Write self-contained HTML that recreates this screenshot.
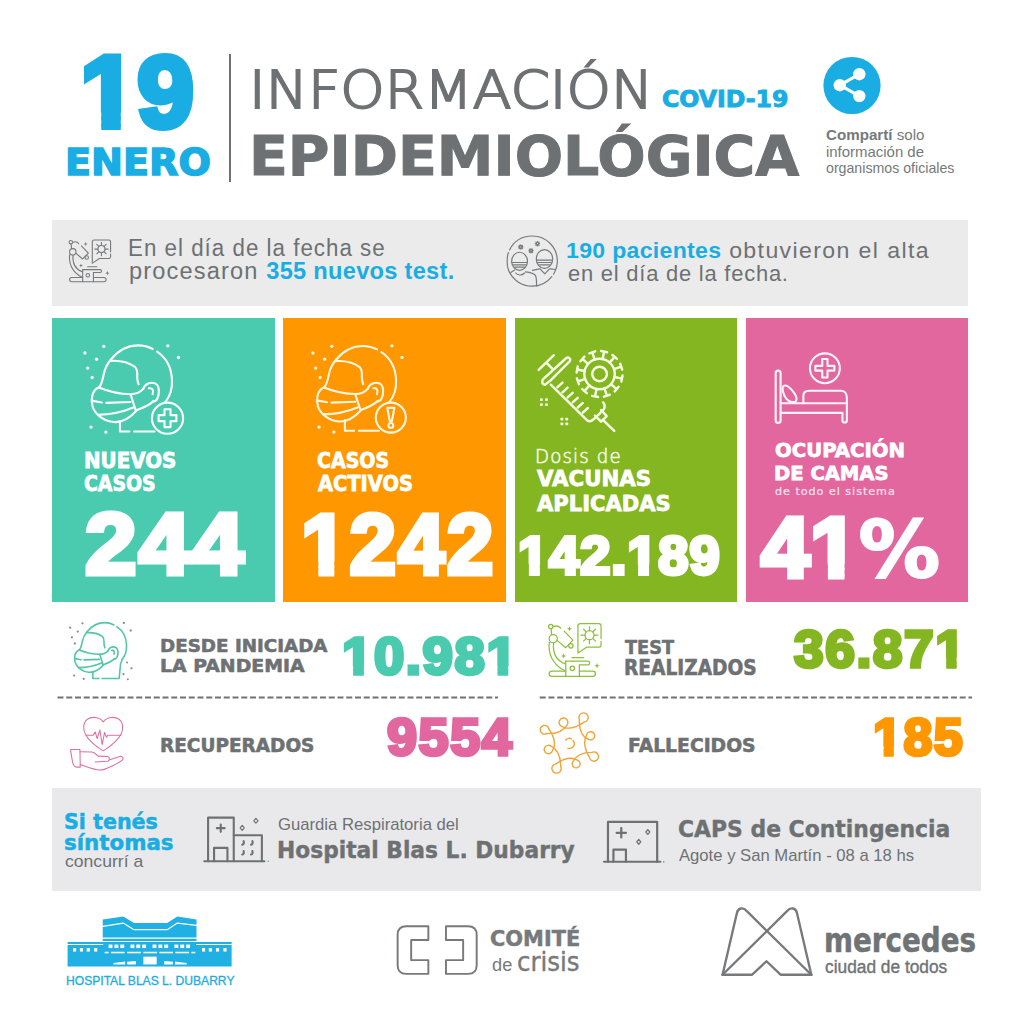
<!DOCTYPE html>
<html lang="es"><head><meta charset="utf-8"><title>Información Epidemiológica</title>
<style>
html,body{margin:0;padding:0;background:#fff;}
body{width:1024px;height:1024px;position:relative;overflow:hidden;}
.t{position:absolute;line-height:1;white-space:nowrap;transform-origin:0 0;}
.t b{font-weight:700;}
.r{position:absolute;}
svg{position:absolute;overflow:visible;}
</style></head><body>
<div class="r" style="left:229px;top:54px;width:2px;height:128px;background:#6d7173"></div>
<div class="r" style="left:52px;top:220px;width:916px;height:86px;background:#ebebeb"></div>
<div class="r" style="left:52px;top:318px;width:222.5px;height:283.5px;background:#4acbb0"></div>
<div class="r" style="left:283px;top:318px;width:223px;height:283.5px;background:#ff9700"></div>
<div class="r" style="left:514.5px;top:318px;width:222px;height:283.5px;background:#84b621"></div>
<div class="r" style="left:745.5px;top:318px;width:222.5px;height:283.5px;background:#e2679f"></div>
<div class="r" style="left:52px;top:788px;width:929px;height:103px;background:#e9e9eb"></div>
<svg style="left:76px;top:338px" width="114" height="102" viewBox="0 0 1024 916" fill="none" stroke-linecap="round" stroke-linejoin="round" ><g stroke="#fbfffd" stroke-width="19" style="color:#fbfffd"><path d="M318,188 C390,100 470,66 560,66 C610,66 650,78 688,98"/>
<path d="M728,122 C800,170 858,260 862,380 C866,460 840,530 800,578"/>
<path d="M318,188 C280,230 258,280 248,330 C238,380 232,420 205,445"/>
<path d="M305,205 C380,200 470,215 530,260 C560,290 548,330 550,360 C552,390 560,405 562,415"/>
<path d="M205,445 C140,470 130,560 150,620 C175,690 250,745 340,755 C420,760 490,710 540,655"/>
<path d="M205,445 C290,480 400,505 490,505 C540,505 580,485 605,455"/>
<path d="M490,505 L535,645"/>
<path d="M150,565 L232,580 M272,583 L490,575"/>
<path d="M195,690 C310,690 420,665 515,625"/>
<path d="M540,650 C600,630 660,600 700,565"/>
<path d="M605,455 C620,410 670,390 715,410 C750,430 752,500 730,545 C720,565 700,575 690,570"/>
<path d="M655,452 C688,445 700,470 688,505"/>
<path d="M395,745 L395,840 L480,840 M522,840 L705,840"/><g stroke="none" fill="currentColor"><circle cx="80" cy="135" r="15"/><circle cx="250" cy="75" r="15"/><circle cx="185" cy="190" r="15"/><circle cx="105" cy="270" r="15"/><circle cx="145" cy="355" r="15"/><circle cx="825" cy="70" r="15"/><circle cx="920" cy="175" r="15"/><circle cx="135" cy="800" r="15"/><circle cx="268" cy="845" r="15"/></g><circle cx="822" cy="720" r="140"/><path d="M795,640 L849,640 L849,693 L902,693 L902,747 L849,747 L849,800 L795,800 L795,747 L742,747 L742,693 L795,693 Z"/></g></svg>
<svg style="left:304px;top:338px" width="114" height="102" viewBox="0 0 1024 916" fill="none" stroke-linecap="round" stroke-linejoin="round" ><g stroke="#fff6e2" stroke-width="19" style="color:#fff6e2"><g transform="translate(-22,6) scale(0.985)"><path d="M318,188 C390,100 470,66 560,66 C610,66 650,78 688,98"/>
<path d="M728,122 C800,170 858,260 862,380 C866,460 840,530 800,578"/>
<path d="M318,188 C280,230 258,280 248,330 C238,380 232,420 205,445"/>
<path d="M305,205 C380,200 470,215 530,260 C560,290 548,330 550,360 C552,390 560,405 562,415"/>
<path d="M205,445 C140,470 130,560 150,620 C175,690 250,745 340,755 C420,760 490,710 540,655"/>
<path d="M205,445 C290,480 400,505 490,505 C540,505 580,485 605,455"/>
<path d="M490,505 L535,645"/>
<path d="M150,565 L232,580 M272,583 L490,575"/>
<path d="M195,690 C310,690 420,665 515,625"/>
<path d="M540,650 C600,630 660,600 700,565"/>
<path d="M605,455 C620,410 670,390 715,410 C750,430 752,500 730,545 C720,565 700,575 690,570"/>
<path d="M655,452 C688,445 700,470 688,505"/>
<path d="M395,745 L395,840 L480,840 M522,840 L705,840"/></g><g stroke="none" fill="currentColor"><circle cx="80" cy="135" r="15"/><circle cx="250" cy="75" r="15"/><circle cx="185" cy="190" r="15"/><circle cx="105" cy="270" r="15"/><circle cx="145" cy="355" r="15"/><circle cx="790" cy="70" r="15"/><circle cx="880" cy="175" r="15"/><circle cx="135" cy="800" r="15"/><circle cx="268" cy="845" r="15"/></g><circle cx="780" cy="715" r="135"/><path d="M748,628 L812,628 L790,745 L770,745 Z"/><circle cx="780" cy="785" r="22"/></g></svg>
<svg style="left:530px;top:340px" width="104" height="100" viewBox="0 0 1024 985" fill="none" stroke-linecap="round" stroke-linejoin="round" ><g stroke="#f6ffe4" stroke-width="24"><path d="M85,295 L235,150"/><path d="M160,222 L222,284"/>
<path d="M150,440 C120,440 110,405 130,385 L355,180 C380,160 410,190 390,210 L205,395 Z" />
<path d="M205,440 L560,790 C590,815 620,790 640,770 L720,690 C745,665 735,630 720,615"/>
<path d="M270,465 L320,420 M320,515 L370,470 M370,565 L420,520 M420,615 L470,570 M470,665 L520,620 M520,715 L570,670"/>
<path d="M640,745 L700,805 L755,750 L700,690 M720,790 L830,895"/>
<circle cx="685" cy="335" r="150"/><circle cx="685" cy="335" r="72"/>
<path d="M832,365 L906,380 M911,350 L900,409 M797,434 L854,484 M873,461 L834,506 M733,477 L757,548 M785,539 L728,558 M655,482 L640,556 M670,561 L611,550 M586,447 L536,504 M559,523 L514,484 M543,383 L472,407 M481,435 L462,378 M538,305 L464,290 M459,320 L470,261 M573,236 L516,186 M497,209 L536,164 M637,193 L613,122 M585,131 L642,112 M715,188 L730,114 M700,109 L759,120 M784,223 L834,166 M811,147 L856,186 M827,287 L898,263 M889,235 L908,292"/>
<g stroke="none" fill="#f6ffe4"><rect x="98" y="573" width="28" height="28" rx="8"/><rect x="148" y="573" width="28" height="28" rx="8"/><rect x="98" y="623" width="28" height="28" rx="8"/><rect x="148" y="623" width="28" height="28" rx="8"/>
<rect x="300" y="765" width="28" height="28" rx="8"/><rect x="348" y="765" width="28" height="28" rx="8"/><rect x="300" y="812" width="28" height="28" rx="8"/><rect x="348" y="812" width="28" height="28" rx="8"/></g></g></svg>
<svg style="left:766px;top:345px" width="90" height="85" viewBox="0 0 1024 967" fill="none" stroke-linecap="round" stroke-linejoin="round" ><g stroke="#fff4f8" stroke-width="24"><rect x="110" y="292" width="56" height="594" rx="28"/>
<path d="M166,662 L920,662 L920,858 C920,890 870,890 870,858 L870,772 L166,772"/>
<path d="M425,662 L425,580 C425,540 450,520 490,520 L850,520 C890,520 920,550 920,600 L920,662"/>
<path d="M200,465 C230,450 260,470 300,520 C340,570 360,600 340,640 C320,660 260,650 230,610 C195,560 175,490 200,465 Z"/>
<circle cx="670" cy="265" r="170"/>
<path d="M640,160 L700,160 L700,238 L778,238 L778,292 L700,292 L700,370 L640,370 L640,292 L562,292 L562,238 L640,238 Z"/></g></svg>
<svg style="left:542px;top:618px" width="64" height="64" viewBox="0 0 1024 1024" fill="none" stroke-linecap="round" stroke-linejoin="round" ><g stroke="#8dbf3a" stroke-width="20" style="color:#8dbf3a"><circle cx="140" cy="135" r="35"/><path d="M185,135 C240,120 280,130 300,165"/>
<path d="M145,170 L155,262"/><circle cx="180" cy="330" r="65"/>
<path d="M355,210 L495,355 L380,475 L245,362"/><circle cx="462" cy="445" r="35"/>
<path d="M118,385 C90,560 170,745 360,840"/><path d="M185,400 C170,560 230,680 372,735"/>
<path d="M480,632 L665,632"/><path d="M380,690 L735,690 C772,690 772,750 735,750 L598,750"/>
<path d="M380,690 L380,935 M598,750 L598,935"/><circle cx="485" cy="805" r="35"/>
<path d="M380,850 L160,850 C100,850 100,935 160,935 L810,935 C870,935 870,850 810,850 L598,850"/>
<path d="M575,560 L575,125 C575,100 590,90 615,90 L910,90 C935,90 945,105 945,125 L945,330 M945,375 L945,430 C945,455 930,465 905,465 L720,465 L575,560"/>
<circle cx="760" cy="275" r="72"/>
<path d="M760,203 L760,140 M760,347 L760,410 M688,275 L625,275 M832,275 L895,275 M709,224 L665,180 M811,326 L855,370 M709,326 L665,370 M811,224 L855,180"/><g stroke="none" fill="currentColor"><path d="M440,130 L452,160 L482,172 L452,184 L440,214 L428,184 L398,172 L428,160Z"/><path d="M345,565 L357,595 L387,607 L357,619 L345,649 L333,619 L303,607 L333,595Z"/><path d="M880,720 L892,750 L922,762 L892,774 L880,804 L868,774 L838,762 L868,750Z"/></g></g></svg>
<svg style="left:0;top:0" width="1024" height="1024" viewBox="0 0 1024 1024" fill="none" stroke-linecap="round" stroke-linejoin="round"><g transform="translate(63.9,235.5) scale(0.0494)" stroke="#77797b" stroke-width="22" style="color:#77797b"><circle cx="140" cy="135" r="35"/><path d="M185,135 C240,120 280,130 300,165"/>
<path d="M145,170 L155,262"/><circle cx="180" cy="330" r="65"/>
<path d="M355,210 L495,355 L380,475 L245,362"/><circle cx="462" cy="445" r="35"/>
<path d="M118,385 C90,560 170,745 360,840"/><path d="M185,400 C170,560 230,680 372,735"/>
<path d="M480,632 L665,632"/><path d="M380,690 L735,690 C772,690 772,750 735,750 L598,750"/>
<path d="M380,690 L380,935 M598,750 L598,935"/><circle cx="485" cy="805" r="35"/>
<path d="M380,850 L160,850 C100,850 100,935 160,935 L810,935 C870,935 870,850 810,850 L598,850"/>
<path d="M575,560 L575,125 C575,100 590,90 615,90 L910,90 C935,90 945,105 945,125 L945,330 M945,375 L945,430 C945,455 930,465 905,465 L720,465 L575,560"/>
<circle cx="760" cy="275" r="72"/>
<path d="M760,203 L760,140 M760,347 L760,410 M688,275 L625,275 M832,275 L895,275 M709,224 L665,180 M811,326 L855,370 M709,326 L665,370 M811,224 L855,180"/><g stroke="none" fill="currentColor"><path d="M440,130 L452,160 L482,172 L452,184 L440,214 L428,184 L398,172 L428,160Z"/><path d="M345,565 L357,595 L387,607 L357,619 L345,649 L333,619 L303,607 L333,595Z"/><path d="M880,720 L892,750 L922,762 L892,774 L880,804 L868,774 L838,762 L868,750Z"/></g></g></svg>
<svg style="left:502px;top:232px" width="60" height="60" viewBox="0 0 1024 1024" fill="none" stroke-linecap="round" stroke-linejoin="round" ><g stroke="#77797b" stroke-width="20"><path d="M130,305 C200,160 340,70 515,68 C750,66 945,260 945,495 C945,590 915,660 880,720 M850,760 C770,860 650,925 515,925 C330,925 175,810 110,650 C80,570 80,430 110,350"/>
<ellipse cx="300" cy="500" rx="135" ry="155"/><path d="M168,520 L432,520 M190,560 L410,560 M215,600 L385,600"/>
<path d="M215,650 L150,690 M235,700 C260,740 340,750 385,700 M400,680 C480,690 540,700 570,740 C590,770 590,850 590,920"/>
<ellipse cx="725" cy="460" rx="140" ry="160"/><path d="M590,480 L860,480 M610,520 L840,520 M640,560 L810,560"/>
<path d="M650,630 L730,715 L810,630 M520,655 L640,630 M825,630 L910,640"/>
<circle cx="320" cy="255" r="22"/><path d="M342,255 L358,255 M336,271 L347,282 M320,277 L320,293 M304,271 L293,282 M298,255 L282,255 M304,239 L293,228 M320,233 L320,217 M336,239 L347,228"/><circle cx="495" cy="320" r="22"/><path d="M517,320 L533,320 M511,336 L522,347 M495,342 L495,358 M479,336 L468,347 M473,320 L457,320 M479,304 L468,293 M495,298 L495,282 M511,304 L522,293"/><circle cx="605" cy="200" r="22"/><path d="M627,200 L643,200 M621,216 L632,227 M605,222 L605,238 M589,216 L578,227 M583,200 L567,200 M589,184 L578,173 M605,178 L605,162 M621,184 L632,173"/></g></svg>
<svg style="left:0;top:0" width="1024" height="1024" viewBox="0 0 1024 1024" fill="none" stroke-linecap="round" stroke-linejoin="round"><g transform="translate(64.4,617.9) scale(0.07206)" stroke="#54c6a8" stroke-width="22"><g><path d="M318,188 C390,100 470,66 560,66 C610,66 650,78 688,98"/>
<path d="M728,122 C800,170 858,260 862,380 C866,460 840,530 800,578"/>
<path d="M318,188 C280,230 258,280 248,330 C238,380 232,420 205,445"/>
<path d="M305,205 C380,200 470,215 530,260 C560,290 548,330 550,360 C552,390 560,405 562,415"/>
<path d="M205,445 C140,470 130,560 150,620 C175,690 250,745 340,755 C420,760 490,710 540,655"/>
<path d="M205,445 C290,480 400,505 490,505 C540,505 580,485 605,455"/>
<path d="M490,505 L535,645"/>
<path d="M150,565 L232,580 M272,583 L490,575"/>
<path d="M195,690 C310,690 420,665 515,625"/>
<path d="M540,650 C600,630 660,600 700,565"/>
<path d="M605,455 C620,410 670,390 715,410 C750,430 752,500 730,545 C720,565 700,575 690,570"/>
<path d="M655,452 C688,445 700,470 688,505"/>
<path d="M395,745 L395,840 L480,840 M522,840 L705,840"/></g><path d="M800,578 C795,600 790,615 780,630 L760,840 L705,840"/></g><g transform="translate(64.4,617.9) scale(0.07206)" fill="#8a8d8f"><circle cx="80" cy="135" r="16"/><circle cx="250" cy="75" r="16"/><circle cx="185" cy="190" r="16"/><circle cx="105" cy="270" r="16"/><circle cx="145" cy="355" r="16"/><circle cx="825" cy="70" r="16"/><circle cx="920" cy="175" r="16"/><circle cx="135" cy="800" r="16"/><circle cx="268" cy="845" r="16"/><circle cx="870" cy="620" r="14"/><circle cx="930" cy="700" r="16"/><circle cx="820" cy="780" r="16"/><circle cx="880" cy="850" r="14"/></g></svg>
<svg style="left:64px;top:710px" width="68" height="66" viewBox="0 0 1024 994" fill="none" stroke-linecap="round" stroke-linejoin="round" ><g stroke="#dd6f9b" stroke-width="16"><path d="M590,180 C530,100 420,95 350,140 C290,180 280,270 320,360 C380,470 500,560 590,615 C680,560 800,470 860,360 C900,270 890,180 830,140 C760,95 650,100 590,180 Z"/>
<path d="M330,380 L440,380 L470,330 L500,430 L540,300 L575,520 L610,340 L640,410 L660,380 L860,380"/>
<path d="M100,595 L240,595 L245,860 L190,860 C150,860 140,830 130,790 L100,620 Z"/>
<path d="M245,628 L420,632 C470,640 495,690 520,695 L660,700 C690,705 692,765 660,772 L470,782"/>
<path d="M245,820 C350,860 450,905 545,905 C620,905 840,790 880,752 C905,725 875,690 840,700 L690,750"/></g></svg>
<svg style="left:534px;top:708px" width="72" height="70" viewBox="0 0 1024 996" fill="none" stroke-linecap="round" stroke-linejoin="round" ><g stroke="#f0a43a" stroke-width="20"><path d="M178,365 A62,62 0 1 1 212,302 M401,264 A62,62 0 1 1 469,243 M646,165 A66,66 0 1 1 713,201 M749,380 A58,58 0 1 1 771,442 M823,631 A66,66 0 1 1 786,697 M617,742 A56,56 0 1 1 556,760 M379,830 A66,66 0 1 1 312,795 M262,609 A60,60 0 1 1 242,543 M178,365 Q402,369 469,243 M401,264 Q527,331 713,201 M646,165 Q639,389 771,442 M749,380 Q679,514 786,697 M823,631 Q617,632 556,760 M617,742 Q494,669 312,795 M379,830 Q378,608 242,543 M262,609 Q341,483 212,302"/><path d="M450,455 C470,430 510,425 530,440 M555,460 C600,520 560,585 480,575"/></g></svg>
<svg style="left:200px;top:812px" width="72" height="54" viewBox="0 0 1024 768" fill="none" stroke-linecap="round" stroke-linejoin="round" ><g stroke="#6d7173" stroke-width="30"><path d="M115,700 L115,80 L480,80 L480,700"/><path d="M480,330 L880,330 L880,700"/><path d="M60,700 L915,700"/>
<path d="M200,700 L200,510 L390,510 L390,700"/><path d="M240,230 L350,230 M295,178 L295,282"/>
<path d="M620,415 C630,440 620,460 600,465 M745,415 C755,440 745,460 725,465 M620,555 C630,580 620,600 600,605 M745,555 C755,580 745,600 725,605"/>
<path d="M600,190 L630,225 L600,260 L570,225 Z M795,90 L825,125 L795,160 L765,125 Z" stroke-width="16"/></g><circle cx="970" cy="700" r="10" fill="#8a8d8f"/></svg>
<svg style="left:540px;top:800px" width="160" height="80" viewBox="0 0 1024 512" fill="none" stroke-linecap="round" stroke-linejoin="round" ><g stroke="#6d7173" stroke-width="14"><path d="M435,395 L435,140 L750,140 L750,395"/><path d="M410,395 L770,395"/><path d="M470,395 L470,318 L550,318 L550,395"/>
<path d="M490,210 L550,210 M520,180 L520,240"/><path d="M690,190 L703,205 L690,220 L677,205 Z M632,253 L645,268 L632,283 L619,268 Z" stroke-width="8"/></g><circle cx="792" cy="396" r="5" fill="#8a8d8f"/></svg>
<svg style="left:822px;top:56px" width="60" height="60" viewBox="0 0 60 60"><circle cx="30" cy="29.5" r="28.6" fill="#1aade4"/><g stroke="#fff" stroke-width="3.2"><line x1="18" y1="29.2" x2="37.3" y2="18.2"/><line x1="18" y1="29.2" x2="37.3" y2="40.1"/></g><g fill="#fff"><circle cx="37.3" cy="18.2" r="6.2"/><circle cx="17.8" cy="29.2" r="6.2"/><circle cx="37.3" cy="40.1" r="6.2"/></g></svg>
<svg style="left:50px;top:900px" width="200" height="100" viewBox="0 0 1024 512" fill="none" stroke-linecap="round" stroke-linejoin="round" ><path d="M270,210 L270,100 L375,84 L430,118 L600,118 L652,84 L750,100 L750,210 Z" fill="#21b0e3"/>
<path d="M90,215 L930,215 L930,340 L90,340 Z" fill="#21b0e3"/>
<path d="M270,135 L375,118 L430,152 L600,152 L652,118 L750,130" stroke="#fff" stroke-width="6" fill="none"/>
<path d="M270,195 L750,195 M90,228 L270,228 M750,228 L930,228" stroke="#fff" stroke-width="6"/>
<g fill="#fff"><rect x="118" y="246" width="16" height="18"/><rect x="153" y="246" width="16" height="18"/><rect x="188" y="246" width="16" height="18"/><rect x="226" y="246" width="16" height="18"/>
<rect x="300" y="228" width="20" height="18"/><rect x="330" y="228" width="20" height="18"/><rect x="360" y="228" width="20" height="18"/>
<rect x="412" y="228" width="20" height="18"/><rect x="442" y="228" width="20" height="18"/><rect x="472" y="228" width="20" height="18"/>
<rect x="525" y="228" width="20" height="18"/><rect x="555" y="228" width="20" height="18"/><rect x="585" y="228" width="20" height="18"/>
<rect x="637" y="228" width="20" height="18"/><rect x="667" y="228" width="20" height="18"/><rect x="697" y="228" width="20" height="18"/>
<rect x="778" y="246" width="16" height="18"/><rect x="813" y="246" width="16" height="18"/><rect x="850" y="246" width="16" height="18"/><rect x="888" y="246" width="16" height="18"/>
<rect x="280" y="265" width="20" height="8"/><rect x="312" y="265" width="70" height="8"/><rect x="395" y="265" width="70" height="8"/><rect x="478" y="265" width="70" height="8"/><rect x="560" y="265" width="70" height="8"/><rect x="642" y="265" width="70" height="8"/><rect x="724" y="265" width="20" height="8"/>
<rect x="478" y="290" width="68" height="40"/><path d="M325,330 L325,322 L385,315 L385,330 Z M395,330 L395,316 L440,312 L440,330 Z M585,330 L585,312 L630,316 L630,330 Z M640,330 L640,315 L700,322 L700,330 Z"/></g></svg>
<svg style="left:380px;top:900px" width="220" height="90" viewBox="0 0 1024 419" fill="none" stroke-linecap="round" stroke-linejoin="round" ><g stroke="#77797b" stroke-width="9"><path d="M225,122 L122,122 Q82,122 82,162 L82,304 Q82,344 122,344 L225,344 L225,280 L145,280 L145,186 L225,186 Z"/>
<path d="M307,122 L410,122 Q450,122 450,162 L450,304 Q450,344 410,344 L307,344 L307,280 L387,280 L387,186 L307,186 Z"/></g></svg>
<svg style="left:700px;top:890px" width="300" height="100" viewBox="0 0 1024 341" fill="none" stroke-linecap="round" stroke-linejoin="round" ><g stroke="#77797b" stroke-width="8"><path d="M380,289 L160,72 C148,58 130,60 126,78 L77,289"/>
<path d="M77,289 L297,72 C309,58 327,60 331,78 L380,289"/>
<path d="M77,289 L178,289 L227,243 L275,289 L380,289"/></g></svg>
<svg style="left:0;top:0" width="1024" height="1024"><g stroke="#707375" stroke-width="2" stroke-dasharray="6 2.75"><line x1="57.5" y1="697.4" x2="498" y2="697.4"/><line x1="539.7" y1="697.4" x2="972" y2="697.4"/></g></svg>
<div class="t" style="left:79.66px;top:41.65px;font-family:'Liberation Sans',sans-serif;font-weight:700;font-size:101.59px;color:#1aade4;transform:scaleX(1.0093);-webkit-text-stroke-width:6px;"><span style="display:inline-block;clip-path:polygon(-50px -50px,300px -50px,300px 71.09px,40.39px 71.09px,40.39px 300px,21.07px 300px,21.07px 71.09px,-50px 71.09px)">1</span>9</div>
<div class="t" style="left:65.36px;top:143.62px;font-family:'DejaVu Sans',sans-serif;font-weight:700;font-size:37.67px;color:#1aade4;transform:scaleX(1.0136);-webkit-text-stroke-width:1.5px;">ENERO</div>
<div class="t" style="left:248.76px;top:64.73px;font-family:'DejaVu Sans',sans-serif;font-weight:200;font-size:51.92px;color:#6d7173;transform:scaleX(1.0878);-webkit-text-stroke-width:2px;">INFORMACIÓN</div>
<div class="t" style="left:661.80px;top:87.87px;font-family:'DejaVu Sans',sans-serif;font-weight:700;font-size:23.70px;color:#1aade4;transform:scaleX(0.9960);-webkit-text-stroke-width:1px;">COVID-19</div>
<div class="t" style="left:248.82px;top:128.83px;font-family:'DejaVu Sans',sans-serif;font-weight:700;font-size:54.52px;color:#6d7173;transform:scaleX(1.0439);-webkit-text-stroke-width:1px;">EPIDEMIOLÓGICA</div>
<div class="t" style="left:825.83px;top:128.30px;font-family:'Liberation Sans',sans-serif;font-weight:400;font-size:14.20px;color:#76797b;transform:scaleX(1.0670);"><b>Compartí</b> solo</div>
<div class="t" style="left:825.85px;top:144.70px;font-family:'Liberation Sans',sans-serif;font-weight:400;font-size:14.20px;color:#76797b;transform:scaleX(1.0527);">información de</div>
<div class="t" style="left:825.90px;top:160.60px;font-family:'Liberation Sans',sans-serif;font-weight:400;font-size:14.20px;color:#76797b;transform:scaleX(0.9988);">organismos oficiales</div>
<div class="t" style="left:127.96px;top:237.03px;font-family:'Liberation Sans',sans-serif;font-weight:400;font-size:23.04px;color:#6d7173;transform:scaleX(0.9698);letter-spacing:1.041685342895562px;">En el día de la fecha se</div>
<div class="t" style="left:128.58px;top:259.93px;font-family:'Liberation Sans',sans-serif;font-weight:400;font-size:23.04px;color:#6d7173;transform:scaleX(1.0235);letter-spacing:1.1296590007930218px;">procesaron <b style="color:#1aade4;letter-spacing:0.3px">355 nuevos test.</b></div>
<div class="t" style="left:566.16px;top:239.80px;font-family:'Liberation Sans',sans-serif;font-weight:400;font-size:22.61px;color:#6d7173;transform:scaleX(1.0204);letter-spacing:1.3658131027602243px;"><b style="color:#1aade4;letter-spacing:0.3px">190 pacientes</b> obtuvieron el alta</div>
<div class="t" style="left:567.63px;top:262.70px;font-family:'Liberation Sans',sans-serif;font-weight:400;font-size:22.61px;color:#6d7173;transform:scaleX(0.9696);letter-spacing:0.8055964653902772px;">en el día de la fecha.</div>
<div class="t" style="left:83.63px;top:450.95px;font-family:'DejaVu Sans',sans-serif;font-weight:700;font-size:20.41px;color:#ffffff;transform:scaleX(0.9720);-webkit-text-stroke-width:0.8px;">NUEVOS</div>
<div class="t" style="left:83.67px;top:474.35px;font-family:'DejaVu Sans',sans-serif;font-weight:700;font-size:20.41px;color:#ffffff;transform:scaleX(0.9250);-webkit-text-stroke-width:0.8px;">CASOS</div>
<div class="t" style="left:84.50px;top:501.29px;font-family:'Liberation Sans',sans-serif;font-weight:700;font-size:86.52px;color:#ffffff;transform:scaleX(1.0709);-webkit-text-stroke-width:5px;letter-spacing:2px;">244</div>
<div class="t" style="left:317.27px;top:450.95px;font-family:'DejaVu Sans',sans-serif;font-weight:700;font-size:20.41px;color:#ffffff;transform:scaleX(0.9316);-webkit-text-stroke-width:0.8px;">CASOS</div>
<div class="t" style="left:318.20px;top:474.35px;font-family:'DejaVu Sans',sans-serif;font-weight:700;font-size:20.41px;color:#ffffff;transform:scaleX(0.9515);-webkit-text-stroke-width:0.8px;">ACTIVOS</div>
<div class="t" style="left:300.65px;top:502.29px;font-family:'Liberation Sans',sans-serif;font-weight:700;font-size:85.22px;color:#ffffff;transform:scaleX(0.9828);-webkit-text-stroke-width:5px;letter-spacing:2px;"><span style="display:inline-block;clip-path:polygon(-50px -50px,300px -50px,300px 59.39px,33.83px 59.39px,33.83px 300px,17.73px 300px,17.73px 59.39px,-50px 59.39px)">1</span>242</div>
<div class="t" style="left:535.40px;top:447.19px;font-family:'DejaVu Sans',sans-serif;font-weight:200;font-size:19.18px;color:#f4fbe6;transform:scaleX(0.9517);-webkit-text-stroke-width:0.6px;letter-spacing:1.1654135338345972px;">Dosis de</div>
<div class="t" style="left:537.30px;top:469.49px;font-family:'DejaVu Sans',sans-serif;font-weight:700;font-size:20.96px;color:#ffffff;transform:scaleX(1.0162);-webkit-text-stroke-width:0.8px;">VACUNAS</div>
<div class="t" style="left:537.30px;top:493.69px;font-family:'DejaVu Sans',sans-serif;font-weight:700;font-size:20.96px;color:#ffffff;transform:scaleX(1.0045);-webkit-text-stroke-width:0.8px;">APLICADAS</div>
<div class="t" style="left:518.00px;top:527.72px;font-family:'Liberation Sans',sans-serif;font-weight:700;font-size:54.06px;color:#ffffff;transform:scaleX(1.0005);-webkit-text-stroke-width:4px;letter-spacing:1px;"><span style="display:inline-block;clip-path:polygon(-50px -50px,300px -50px,300px 36.67px,21.80px 36.67px,21.80px 300px,10.90px 300px,10.90px 36.67px,-50px 36.67px)">1</span>42.<span style="display:inline-block;clip-path:polygon(-50px -50px,300px -50px,300px 36.67px,21.80px 36.67px,21.80px 300px,10.90px 300px,10.90px 36.67px,-50px 36.67px)">1</span>89</div>
<div class="t" style="left:775.30px;top:439.80px;font-family:'DejaVu Sans',sans-serif;font-weight:700;font-size:20.00px;color:#ffffff;transform:scaleX(0.9840);-webkit-text-stroke-width:0.8px;">OCUPACIÓN</div>
<div class="t" style="left:774.27px;top:464.13px;font-family:'DejaVu Sans',sans-serif;font-weight:700;font-size:18.90px;color:#ffffff;transform:scaleX(1.0349);-webkit-text-stroke-width:0.8px;">DE CAMAS</div>
<div class="t" style="left:775.20px;top:486.42px;font-family:'DejaVu Sans',sans-serif;font-weight:400;font-size:11.10px;color:#fbe2ed;transform:scaleX(1.0042);-webkit-text-stroke-width:0.2px;letter-spacing:0.9705882352941176px;">de todo el sistema</div>
<div class="t" style="left:761.13px;top:505.58px;font-family:'Liberation Sans',sans-serif;font-weight:700;font-size:84.64px;color:#ffffff;transform:scaleX(1.0347);-webkit-text-stroke-width:5px;">4<span style="display:inline-block;clip-path:polygon(-50px -50px,300px -50px,300px 58.96px,33.62px 58.96px,33.62px 300px,17.59px 300px,17.59px 58.96px,-50px 58.96px)">1</span><span style="font-family:DejaVu Sans,sans-serif;font-size:0.93em;-webkit-text-stroke-width:2px">%</span></div>
<div class="t" style="left:159.81px;top:636.57px;font-family:'DejaVu Sans',sans-serif;font-weight:700;font-size:18.49px;color:#6d7173;transform:scaleX(0.9893);-webkit-text-stroke-width:0.6px;">DESDE INICIADA</div>
<div class="t" style="left:159.77px;top:656.59px;font-family:'DejaVu Sans',sans-serif;font-weight:700;font-size:18.36px;color:#6d7173;transform:scaleX(1.0271);-webkit-text-stroke-width:0.6px;">LA PANDEMIA</div>
<div class="t" style="left:342.27px;top:631.42px;font-family:'Liberation Sans',sans-serif;font-weight:700;font-size:51.16px;color:#4acbb0;transform:scaleX(1.0656);-webkit-text-stroke-width:3.5px;letter-spacing:1.5px;"><span style="display:inline-block;clip-path:polygon(-50px -50px,300px -50px,300px 34.76px,20.48px 34.76px,20.48px 300px,10.47px 300px,10.47px 34.76px,-50px 34.76px)">1</span>0.98<span style="display:inline-block;clip-path:polygon(-50px -50px,300px -50px,300px 34.76px,20.48px 34.76px,20.48px 300px,10.47px 300px,10.47px 34.76px,-50px 34.76px)">1</span></div>
<div class="t" style="left:624.90px;top:637.66px;font-family:'DejaVu Sans',sans-serif;font-weight:700;font-size:19.45px;color:#6d7173;transform:scaleX(0.9111);-webkit-text-stroke-width:0.6px;">TEST</div>
<div class="t" style="left:623.99px;top:657.95px;font-family:'DejaVu Sans',sans-serif;font-weight:700;font-size:20.41px;color:#6d7173;transform:scaleX(0.9118);-webkit-text-stroke-width:0.6px;">REALIZADOS</div>
<div class="t" style="left:794.32px;top:622.62px;font-family:'Liberation Sans',sans-serif;font-weight:700;font-size:52.46px;color:#84b621;transform:scaleX(1.0180);-webkit-text-stroke-width:3.5px;letter-spacing:1.5px;">36.87<span style="display:inline-block;clip-path:polygon(-50px -50px,300px -50px,300px 35.74px,20.96px 35.74px,20.96px 300px,10.78px 300px,10.78px 35.74px,-50px 35.74px)">1</span></div>
<div class="t" style="left:160.04px;top:736.08px;font-family:'DejaVu Sans',sans-serif;font-weight:700;font-size:19.32px;color:#6d7173;transform:scaleX(0.9563);-webkit-text-stroke-width:0.6px;">RECUPERADOS</div>
<div class="t" style="left:387.20px;top:710.89px;font-family:'Liberation Sans',sans-serif;font-weight:700;font-size:52.03px;color:#e2679f;transform:scaleX(1.0373);-webkit-text-stroke-width:3.5px;letter-spacing:1.5px;">9554</div>
<div class="t" style="left:627.92px;top:736.09px;font-family:'DejaVu Sans',sans-serif;font-weight:700;font-size:19.18px;color:#6d7173;transform:scaleX(0.9781);-webkit-text-stroke-width:0.6px;">FALLECIDOS</div>
<div class="t" style="left:873.30px;top:710.99px;font-family:'Liberation Sans',sans-serif;font-weight:700;font-size:52.03px;color:#ff9700;transform:scaleX(0.9989);-webkit-text-stroke-width:3.5px;letter-spacing:1.5px;"><span style="display:inline-block;clip-path:polygon(-50px -50px,300px -50px,300px 35.41px,20.80px 35.41px,20.80px 300px,10.68px 300px,10.68px 35.41px,-50px 35.41px)">1</span>85</div>
<div class="t" style="left:64.11px;top:811.76px;font-family:'DejaVu Sans',sans-serif;font-weight:700;font-size:20.82px;color:#1aade4;transform:scaleX(0.9903);-webkit-text-stroke-width:0.5px;">Si tenés</div>
<div class="t" style="left:64.07px;top:833.36px;font-family:'DejaVu Sans',sans-serif;font-weight:700;font-size:20.82px;color:#1aade4;transform:scaleX(1.0267);-webkit-text-stroke-width:0.5px;">síntomas</div>
<div class="t" style="left:65.15px;top:854.29px;font-family:'Liberation Sans',sans-serif;font-weight:400;font-size:16.81px;color:#6d7173;transform:scaleX(1.0473);">concurrí a</div>
<div class="t" style="left:277.76px;top:817.39px;font-family:'Liberation Sans',sans-serif;font-weight:400;font-size:16.81px;color:#6d7173;transform:scaleX(0.9931);">Guardia Respiratoria del</div>
<div class="t" style="left:276.85px;top:838.57px;font-family:'DejaVu Sans',sans-serif;font-weight:700;font-size:22.88px;color:#6d7173;transform:scaleX(0.9516);-webkit-text-stroke-width:0.4px;">Hospital Blas L. Dubarry</div>
<div class="t" style="left:678.17px;top:818.29px;font-family:'DejaVu Sans',sans-serif;font-weight:700;font-size:23.56px;color:#6d7173;transform:scaleX(0.9300);-webkit-text-stroke-width:0.4px;">CAPS de Contingencia</div>
<div class="t" style="left:679.10px;top:848.09px;font-family:'Liberation Sans',sans-serif;font-weight:400;font-size:16.81px;color:#6d7173;transform:scaleX(0.9911);">Agote y San Martín - 08 a 18 hs</div>
<div class="t" style="left:65.58px;top:975.81px;font-family:'Liberation Sans',sans-serif;font-weight:400;font-size:11.88px;color:#1aade4;transform:scaleX(1.0183);-webkit-text-stroke-width:0.3px;">HOSPITAL BLAS L. DUBARRY</div>
<div class="t" style="left:489.62px;top:927.89px;font-family:'DejaVu Sans',sans-serif;font-weight:700;font-size:21.37px;color:#77797b;transform:scaleX(0.9789);-webkit-text-stroke-width:0.5px;">COMITÉ</div>
<div class="t" style="left:491.79px;top:956.49px;font-family:'Liberation Sans',sans-serif;font-weight:400;font-size:18.12px;color:#77797b;transform:scaleX(1.0056);">de</div>
<div class="t" style="left:517.27px;top:949.38px;font-family:'DejaVu Sans',sans-serif;font-weight:400;font-size:26.30px;color:#77797b;transform:scaleX(0.9308);-webkit-text-stroke-width:0.4px;">crisis</div>
<div class="t" style="left:823.74px;top:924.39px;font-family:'DejaVu Sans',sans-serif;font-weight:700;font-size:33.56px;color:#6f7375;transform:scaleX(0.8287);-webkit-text-stroke-width:0.5px;">mercedes</div>
<div class="t" style="left:825.40px;top:957.26px;font-family:'Liberation Sans',sans-serif;font-weight:400;font-size:18.99px;color:#6f7375;transform:scaleX(0.9119);-webkit-text-stroke-width:0.4px;">ciudad de todos</div>
</body></html>
